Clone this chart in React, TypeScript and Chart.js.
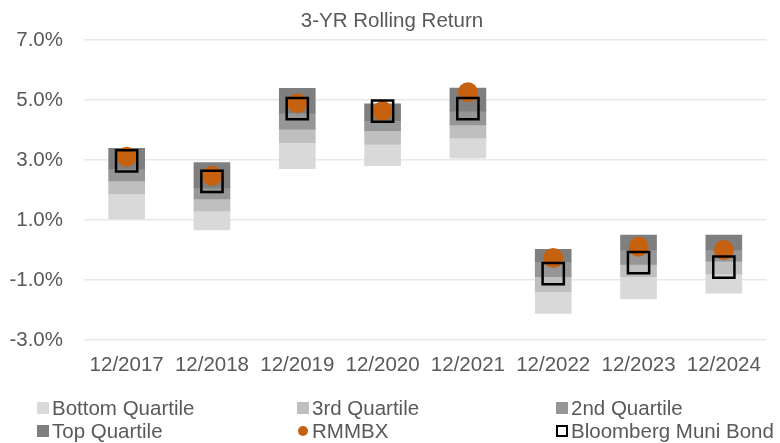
import React, { useEffect, useRef } from "react";
import { Chart, registerables } from "chart.js";

Chart.register(...registerables);

// ---- Data ----
const categories = ["12/2017", "12/2018", "12/2019", "12/2020", "12/2021", "12/2022", "12/2023", "12/2024"];
const rangeMax = [3.39, 2.91, 5.39, 4.87, 5.4, 0.02, 0.5, 0.5];
const topQuartileFloor = [2.7, 2.07, 4.56, 4.31, 4.63, -0.39, 0.0, 0.0];
const medianValues = [2.3, 1.7, 4.03, 3.98, 4.17, -0.89, -0.48, -0.37];
const thirdQuartileFloor = [1.88, 1.3, 3.58, 3.53, 3.74, -1.39, -0.89, -0.8];
const rangeMin = [1.04, 0.67, 2.71, 2.81, 3.06, -2.11, -1.63, -1.44];
const rmmbx = [3.11, 2.47, 4.89, 4.63, 5.26, -0.27, 0.11, 0.0];
const bloombergMuni = [2.97, 2.29, 4.71, 4.63, 4.71, -0.79, -0.42, -0.57];
const yMin = -3;
const yMax = 7;
const yStep = 2;

const FONT = "'Liberation Sans', Arial, Helvetica, sans-serif";
const TEXT = "#595959";
const COLORS = {
  bottom: "#D9D9D9",
  third: "#BFBFBF",
  second: "#969696",
  top: "#7F7F7F",
  rmmbx: "#C6620F",
  bbg: "#000000",
};

const legendItems = [
  { label: "Bottom Quartile", kind: "box", color: COLORS.bottom, left: 37, row: 0 },
  { label: "3rd Quartile", kind: "box", color: COLORS.third, left: 297, row: 0 },
  { label: "2nd Quartile", kind: "box", color: COLORS.second, left: 556, row: 0 },
  { label: "Top Quartile", kind: "box", color: COLORS.top, left: 37, row: 1 },
  { label: "RMMBX", kind: "circle", color: COLORS.rmmbx, left: 297, row: 1 },
  { label: "Bloomberg Muni Bond", kind: "outline", color: COLORS.bbg, left: 556, row: 1 },
];

export default function App() {
  const canvasRef = useRef<HTMLCanvasElement | null>(null);

  useEffect(() => {
    const canvas = canvasRef.current;
    if (!canvas) return;
    const pair = (lo: number[], hi: number[]) => categories.map((_, i) => [lo[i], hi[i]]);

    const chart = new Chart(canvas, {
      type: "bar",
      data: {
        labels: categories,
        datasets: [
          {
            type: "line",
            label: "Bloomberg Muni Bond",
            data: bloombergMuni,
            showLine: false,
            pointStyle: "rect",
            pointRadius: 15,
            pointBackgroundColor: "rgba(0,0,0,0)",
            pointBorderColor: COLORS.bbg,
            pointBorderWidth: 2.5,
            order: 0,
          } as any,
          {
            type: "line",
            label: "RMMBX",
            data: rmmbx,
            showLine: false,
            pointStyle: "circle",
            pointRadius: 10,
            pointBackgroundColor: COLORS.rmmbx,
            pointBorderColor: COLORS.rmmbx,
            pointBorderWidth: 0,
            order: 1,
          } as any,
          {
            label: "Top Quartile",
            data: pair(topQuartileFloor, rangeMax),
            backgroundColor: COLORS.top,
            grouped: false,
            order: 2,
          } as any,
          {
            label: "2nd Quartile",
            data: pair(medianValues, topQuartileFloor),
            backgroundColor: COLORS.second,
            grouped: false,
            order: 3,
          } as any,
          {
            label: "3rd Quartile",
            data: pair(thirdQuartileFloor, medianValues),
            backgroundColor: COLORS.third,
            grouped: false,
            order: 4,
          } as any,
          {
            label: "Bottom Quartile",
            data: pair(rangeMin, thirdQuartileFloor),
            backgroundColor: COLORS.bottom,
            grouped: false,
            order: 5,
          } as any,
        ],
      },
      options: {
        responsive: false,
        animation: false,
        devicePixelRatio: 1,
        layout: { padding: { left: 0, right: 0, top: 0, bottom: 61.4 } },
        datasets: {
          bar: { barThickness: 36, borderWidth: 0 },
        },
        plugins: {
          legend: { display: false },
          tooltip: { enabled: false },
          title: {
            display: true,
            text: "3-YR Rolling Return",
            color: TEXT,
            font: { family: FONT, size: 20.5, weight: "normal" },
            padding: { top: 8.7, bottom: 6.7 },
          },
        },
        scales: {
          x: {
            offset: true,
            grid: { display: false, drawTicks: false },
            border: { display: false },
            ticks: {
              color: TEXT,
              font: { family: FONT, size: 20.5 },
              padding: 13,
              maxRotation: 0,
              autoSkip: false,
            },
            afterFit: (axis: any) => {
              axis.height = 41.6;
            },
          },
          y: {
            min: yMin,
            max: yMax,
            grid: { color: "#E8E8E8", lineWidth: 1.5, drawTicks: false },
            border: { display: false },
            ticks: {
              stepSize: yStep,
              color: TEXT,
              font: { family: FONT, size: 20.5 },
              padding: 21,
              callback: (v: any) => Number(v).toFixed(1) + "%",
            },
            afterFit: (axis: any) => {
              axis.width = 84;
            },
          },
        },
      } as any,
    });
    return () => chart.destroy();
  }, []);

  return (
    <div
      style={{
        position: "fixed",
        left: 0,
        top: 0,
        width: 780,
        height: 443,
        overflow: "hidden",
        background: "#FFFFFF",
        fontFamily: FONT,
      }}
    >
      <canvas ref={canvasRef} width={784} height={443} style={{ width: 784, height: 443, display: "block" }} />
      {legendItems.map((it) => (
        <div
          key={it.label}
          style={{
            position: "absolute",
            left: it.left,
            top: it.row === 0 ? 396 : 418.5,
            height: 24,
            lineHeight: "24px",
            fontSize: 20.5,
            color: TEXT,
            display: "flex",
            alignItems: "center",
            whiteSpace: "nowrap",
          }}
        >
          <span
            style={{
              display: "inline-block",
              width: it.kind === "circle" ? 10 : 12,
              height: it.kind === "circle" ? 10 : 12,
              boxSizing: "border-box",
              background: it.kind === "outline" ? "transparent" : it.color,
              border: it.kind === "outline" ? "2px solid " + it.color : "none",
              borderRadius: it.kind === "circle" ? "50%" : 0,
              marginRight: it.kind === "circle" ? 4 : 3,
              marginLeft: it.kind === "circle" ? 1 : 0,
            }}
          />
          <span>{it.label}</span>
        </div>
      ))}
    </div>
  );
}
